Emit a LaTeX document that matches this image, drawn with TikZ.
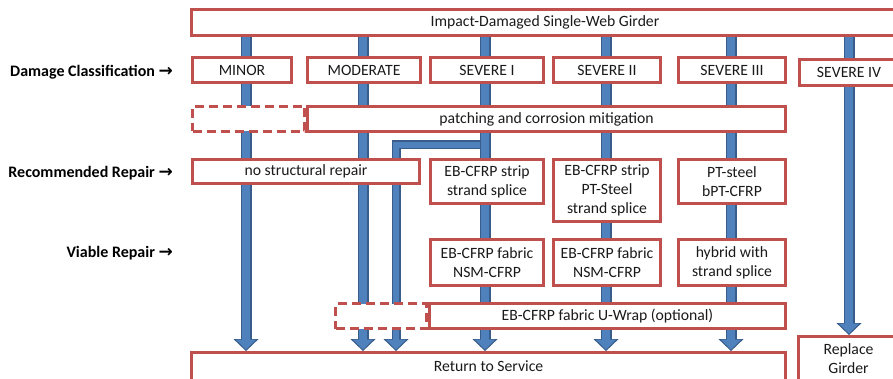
\documentclass[tikz,border=0pt]{standalone}
\usepackage{fontspec}
\setmainfont{Carlito}
\newfontfamily\symfont{DejaVu Sans}
\usetikzlibrary{arrows.meta}
\pgfdeclarelayer{bg}
\pgfsetlayers{bg,main}
\definecolor{boxred}{HTML}{C0504D}
\definecolor{bluefill}{HTML}{4F81BD}
\definecolor{bluedark}{HTML}{385D8A}
\definecolor{txt}{HTML}{1A1A1A}
\begin{document}
\begin{tikzpicture}[x=1pt,y=-1pt,
  box/.style={draw=boxred, line width=2.8pt, fill=white, inner sep=0pt, align=center,
    text=txt, font=\fontsize{15.7}{19}\selectfont},
  dbox/.style={box, dash pattern=on 9pt off 5pt},
  lab/.style={anchor=east, inner sep=0pt, text=black, font=\fontsize{16}{19}\selectfont\bfseries},
  shaftout/.style={line width=11pt, draw=bluedark, line join=miter,
    -{Triangle[length=12pt,width=25pt,line width=0pt]}},
  shaftin/.style={line width=8pt, draw=bluefill, line join=miter, shorten >=1.6pt,
    -{Triangle[length=10pt,width=20.5pt,line width=0pt]}}]
\useasboundingbox (0,0) rectangle (893,379);
\clip (0,0) rectangle (893,379);

% top
\node[box, minimum width=707pt, minimum height=26pt] (top) at (545,22.5) {Impact-Damaged Single-Web Girder};

% damage classification
\node[box, minimum width=99pt, minimum height=25pt] (minor) at (242,70) {MINOR};
\node[box, minimum width=113pt, minimum height=25pt] (moder) at (364,70) {MODERATE};
\node[box, minimum width=113pt, minimum height=25pt] (sev1) at (487,70) {SEVERE I};
\node[box, minimum width=107pt, minimum height=25pt] (sev2) at (607,70) {SEVERE II};
\node[box, minimum width=107pt, minimum height=25pt] (sev3) at (732,70) {SEVERE III};
\node[box, minimum width=99pt, minimum height=26pt] (sev4) at (849,72.5) {SEVERE IV};

% patching
\node[dbox, minimum width=112pt, minimum height=25pt] (patchd) at (248.5,119) {};
\node[box, minimum width=478pt, minimum height=25pt] (patch) at (546.5,119) {patching and corrosion mitigation};

% recommended
\node[box, minimum width=227pt, minimum height=24pt] (norep) at (306,171.5) {no structural repair};
\node[box, minimum width=113pt, minimum height=44pt] (rec1) at (487,181.5) {EB-CFRP strip\\strand splice};
\node[box, minimum width=107pt, minimum height=62pt] (rec2) at (607,190.5) {EB-CFRP strip\\PT-Steel\\strand splice};
\node[box, minimum width=107pt, minimum height=44pt] (rec3) at (732,181.5) {PT-steel\\bPT-CFRP};

% viable
\node[box, minimum width=113pt, minimum height=46pt] (via1) at (487,262.5) {EB-CFRP fabric\\NSM-CFRP};
\node[box, minimum width=107pt, minimum height=46pt] (via2) at (607,262.5) {EB-CFRP fabric\\NSM-CFRP};
\node[box, minimum width=107pt, minimum height=46pt] (via3) at (732,262.5) {hybrid with\\strand splice};

% u-wrap
\node[dbox, minimum width=91pt, minimum height=25pt] (uwd) at (381,316) {};
\node[box, minimum width=356pt, minimum height=25pt] (uw) at (607.5,316) {EB-CFRP fabric U-Wrap (optional)};

% outcomes
\node[box, minimum width=594pt, minimum height=28pt] (ret) at (488.5,366.5) {Return to Service};
\node[box, minimum width=100pt, minimum height=45pt] (repl) at (848.5,359) {Replace\\Girder};

% row labels
\node[lab] (l1) at (173,72) {Damage Classification {\symfont\bfseries\fontsize{17}{19}\selectfont →}};
\node[lab] (l2) at (173,173) {Recommended Repair {\symfont\bfseries\fontsize{17}{19}\selectfont →}};
\node[lab] (l3) at (173,253) {Viable Repair {\symfont\bfseries\fontsize{17}{19}\selectfont →}};

% arrow columns
\coordinate (c1) at (246,0);
\coordinate (c2) at (363,0);
\coordinate (c3) at (485,0);
\coordinate (c4) at (606,0);
\coordinate (c5) at (731,0);
\coordinate (c6) at (849,0);
\coordinate (c7) at (396,0);
\coordinate (br) at (0,145);

\begin{pgfonlayer}{bg}
  \draw[shaftout, line width=9pt] (c3 |- br) -| (c7 |- ret.north);
  \draw[shaftin, line width=6.5pt] (c3 |- br) -| (c7 |- ret.north);
  \foreach \c in {c1,c2,c3,c4,c5} {
    \draw[shaftout] (\c |- top.south) -- (\c |- ret.north);
    \draw[shaftin] (\c |- top.south) -- (\c |- ret.north);
  }
  \draw[shaftout] (c6 |- top.south) -- (c6 |- repl.north);
  \draw[shaftin] (c6 |- top.south) -- (c6 |- repl.north);
\end{pgfonlayer}
\end{tikzpicture}
\end{document}
